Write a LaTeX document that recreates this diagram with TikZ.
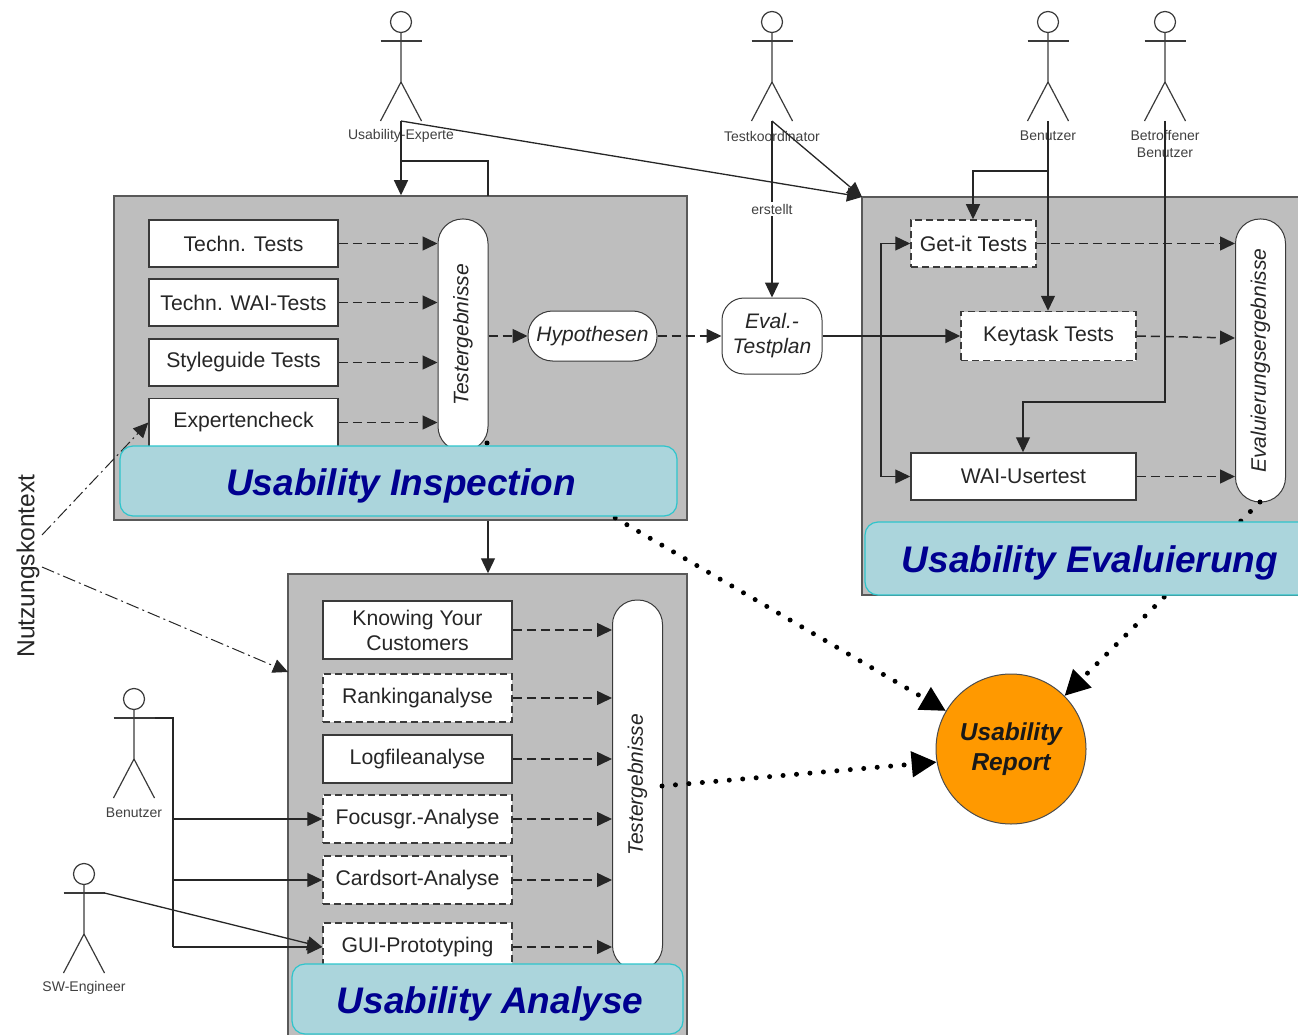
\documentclass[tikz,border=0pt]{standalone}
\usepackage{fontspec}
\setmainfont{Liberation Sans}
\usetikzlibrary{arrows.meta}
\definecolor{panelgray}{HTML}{BEBEBE}
\definecolor{titlefill}{HTML}{ABD5DC}
\definecolor{titleedge}{HTML}{2EC5CC}
\definecolor{titletext}{HTML}{000090}
\definecolor{reportfill}{HTML}{FF9900}
\definecolor{inkgray}{HTML}{3A3A3A}
\newcommand{\actor}[4]{
  \begin{scope}[shift={(#2,#3)}]
    \draw[actorline] (0,-19) circle (10.5pt);
    \draw[actorline] (0,-8.5) -- (0,41) -- (-20.5,80);
    \draw[actorline] (0,41) -- (20.5,80);
    \draw[actorline] (-20.5,0) -- (20.5,0);
    \coordinate (#1) at (0,80);
    \coordinate (#1hand) at (20.5,0);
    \node (#1label) [actortext] at (0,95) {#4};
  \end{scope}
}
\begin{document}
\begin{tikzpicture}[x=1pt, y=-1pt, node distance=59pt,
  every node/.style={font=\fontsize{21.2}{25}\selectfont, text=black!85},
  panel/.style={draw=black!65, line width=1.5pt, fill=panelgray, inner sep=0pt},
  testbox/.style={draw=inkgray, line width=1.5pt, fill=white, inner sep=0pt, align=center, minimum width=189pt, minimum height=47pt},
  planbox/.style={testbox, dash pattern=on 7pt off 4pt},
  respill/.style={draw=inkgray, line width=1pt, fill=white, rounded corners=24.5pt, inner sep=0pt, minimum width=50pt, font=\fontsize{21}{25}\selectfont\itshape},
  titlebox/.style={draw=titleedge, line width=1.2pt, fill=titlefill, rounded corners=13pt, inner sep=0pt, text=titletext, text height=28pt, text depth=0pt, font=\fontsize{37}{44}\selectfont\bfseries\itshape},
  actorline/.style={draw=inkgray, line width=1.2pt},
  actortext/.style={font=\fontsize{14}{17}\selectfont, align=center, text=black!75},
  flow/.style={draw=black!85, line width=1.3pt, -{Triangle[length=15pt,width=14pt]}},
  plainflow/.style={draw=black!85, line width=1.3pt},
  dashflow/.style={flow, line width=1.5pt, dash pattern=on 9pt off 5pt},
  ctxflow/.style={draw=black!85, line width=1pt, dash pattern=on 13pt off 4pt on 2pt off 4pt, -{Triangle[length=15pt,width=14pt]}},
  dotflow/.style={draw=black, line width=5pt, line cap=round, dash pattern=on 0pt off 13.5pt, -{Triangle[length=25pt,width=25pt]}}]
\useasboundingbox (0,0) rectangle (1298,1035);
% panels
\node (inspect) [panel, minimum width=573pt, minimum height=324pt] at (400.5,358) {};
\node (evaluate) [panel, minimum width=450pt, minimum height=398pt] at (1087,396) {};
\node (analyse) [panel, minimum width=399pt, minimum height=480pt] at (487.5,814) {};
% actors
\actor{expert}{401}{41}{Usability-Experte}
\actor{coord}{772}{41}{Testkoordinator}
\actor{user}{1048}{41}{Benutzer}
\actor{victim}{1165}{41}{}
\node (victimlabel) [actortext] at (1165,144) {Betroffener\\Benutzer};
\actor{enduser}{134}{718}{Benutzer}
\actor{engineer}{84}{893}{SW-Engineer}
% usability inspection
\node (tech) [testbox] at (243.5,243.5) {Techn. Tests};
\node (wai) [testbox, below of=tech] {Techn. WAI-Tests};
\node (style) [testbox, below of=wai, node distance=60pt] {Styleguide Tests};
\node (check) [testbox, below of=style, node distance=60pt, minimum height=48pt] {Expertencheck};
\node (testres) [respill, minimum height=232pt] at (463,335) {\rotatebox{90}{Testergebnisse}};
\node (hypo) [respill, minimum width=129pt, minimum height=50pt] at (592.5,336) {Hypothesen};
\node (plan) [respill, rounded corners=22pt, align=center, minimum width=100pt, minimum height=76pt] at (772,336) {Eval.-\\Testplan};
% usability evaluierung
\node (getit) [planbox, minimum width=125pt] at (973.5,243.5) {Get-it Tests};
\node (keytask) [planbox, minimum width=175pt, minimum height=49pt] at (1048.5,336) {Keytask Tests};
\node (usertest) [testbox, minimum width=225pt] at (1023.5,476.5) {WAI-Usertest};
\node (evalres) [respill, minimum height=283pt] at (1260.5,360.5) {\rotatebox{90}{Evaluierungsergebnisse}};
% usability analyse
\node (knowing) [testbox, minimum height=58pt] at (417.5,630) {Knowing Your\\Customers};
\node (ranking) [planbox, below of=knowing, node distance=68pt, minimum height=48pt] {Rankinganalyse};
\node (logfile) [testbox, below of=ranking, node distance=61pt, minimum height=48pt] {Logfileanalyse};
\node (focus) [planbox, below of=logfile, node distance=60pt, minimum height=48pt] {Focusgr.-Analyse};
\node (card) [planbox, below of=focus, node distance=61pt, minimum height=48pt] {Cardsort-Analyse};
\node (gui) [planbox, below of=card, node distance=67pt, minimum height=48pt] {GUI-Prototyping};
\node (anares) [respill, minimum height=370pt] at (637.5,785) {\rotatebox{90}{Testergebnisse}};
\node (report) [circle, draw=black!70, line width=1pt, fill=reportfill, inner sep=0pt, minimum size=150pt, align=center, font=\fontsize{24.5}{30}\selectfont\bfseries\itshape, text=black!90] at (1011,749) {Usability\\Report};
\node (context) [rotate=90, font=\fontsize{24.6}{28}\selectfont] at (28,566) {Nutzungskontext};
\coordinate (ctxup) at (42,535);
\coordinate (ctxdown) at (42,567);
\coordinate (anacorner) at (288,672);
\coordinate (inspectout) at (487,443);
\coordinate (evalout) at (1260,502);
\coordinate (anaout) at (662,786);
\coordinate (evalcorner) at (862,197);
% test results
\draw[dashflow] (tech.east) -- (tech.east -| testres.west);
\draw[dashflow] (wai.east) -- (wai.east -| testres.west);
\draw[dashflow] (style.east) -- (style.east -| testres.west);
\draw[dashflow] (check.east) -- (check.east -| testres.west);
\draw[dashflow] (testres.east |- hypo) -- (hypo.west);
\draw[dashflow] (hypo.east) -- (plan.west |- hypo);
\draw[dashflow] (getit.east) -- (getit.east -| evalres.west);
\draw[dashflow] (keytask.east) -- (evalres.west |- 0,338);
\draw[dashflow] (usertest.east) -- (usertest.east -| evalres.west);
\draw[dashflow] (knowing.east) -- (knowing.east -| anares.west);
\draw[dashflow] (ranking.east) -- (ranking.east -| anares.west);
\draw[dashflow] (logfile.east) -- (logfile.east -| anares.west);
\draw[dashflow] (focus.east) -- (focus.east -| anares.west);
\draw[dashflow] (card.east) -- (card.east -| anares.west);
\draw[dashflow] (gui.east) -- (gui.east -| anares.west);
% actors to tests
\draw[flow] (expert) -- (inspect.north -| expert);
\draw[plainflow] (401,161) -- (488,161) -- (488,196);
\draw[flow] (expert) -- (evalcorner);
\draw[flow] (coord) -- (evalcorner);
\draw[flow] (coord) -- node[pos=.5, fill=white, inner sep=2pt, font=\fontsize{14}{16}\selectfont, text=black!75] (made) {erstellt} (plan.north);
\draw[flow] (user) -- (keytask.north -| user);
\draw[flow] (1048,171) -- (973,171) -- (getit.north -| 973,0);
\draw[flow] (victim) -- (1165,402) -- (1023,402) -- (usertest.north -| 1023,0);
\draw[flow, line width=2pt] (plan.east |- keytask) -- (keytask.west);
\draw[flow] (881,336) -- (881,243.5) -- (getit.west);
\draw[flow] (881,336) -- (881,476.5) -- (usertest.west);
\draw[flow] (inspect.south -| 488,0) -- (analyse.north -| 488,0);
\draw[plainflow] (enduserhand) -- (173,718) -- (173,947);
\draw[flow] (173,819) -- (focus.west);
\draw[flow] (173,880) -- (card.west |- 0,880);
\draw[flow] (173,947) -- (gui.west);
\draw[flow] (engineerhand) -- (gui.west);
% context
\draw[ctxflow] (ctxup) -- (check.west);
\draw[ctxflow] (ctxdown) -- (anacorner);
% report
\draw[dotflow] (inspectout) -- (report);
\draw[dotflow] (evalout) -- (report);
\draw[dotflow] (anaout) -- (report.190);
% titles
\node (inspecttitle) [titlebox, minimum width=557pt, minimum height=70pt] at (398.5,481) {\hspace*{5pt}Usability Inspection};
\node (evaltitle) [titlebox, minimum width=450pt, minimum height=73pt] at (1090,558.5) {Usability Evaluierung};
\node (anatitle) [titlebox, minimum width=391pt, minimum height=70pt] at (487.5,999) {\hspace*{5pt}Usability Analyse};
\end{tikzpicture}
\end{document}
